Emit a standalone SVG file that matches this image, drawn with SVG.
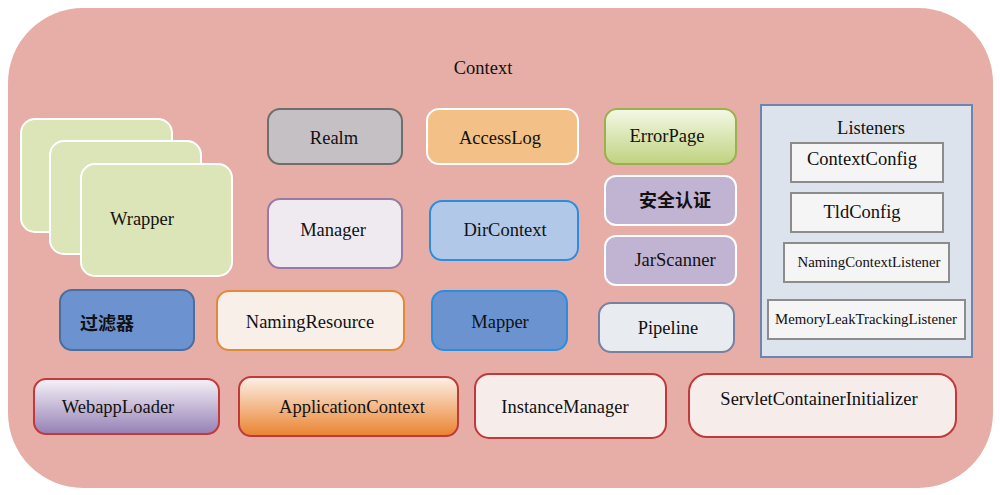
<svg xmlns="http://www.w3.org/2000/svg" width="1000" height="495" viewBox="0 0 1000 495">
<defs>
<linearGradient id="gErr" x1="0" y1="0" x2="0" y2="1"><stop offset="0" stop-color="#f4f8e6"/><stop offset="1" stop-color="#bfd380"/></linearGradient>
<linearGradient id="gWeb" x1="0" y1="0" x2="0" y2="1"><stop offset="0" stop-color="#f6f2f8"/><stop offset="1" stop-color="#9580b5"/></linearGradient>
<linearGradient id="gApp" x1="0" y1="0" x2="0" y2="1"><stop offset="0" stop-color="#fcf0e6"/><stop offset="1" stop-color="#ea8330"/></linearGradient>
</defs>
<style>
text{font-family:'Liberation Serif','Times New Roman','DejaVu Serif',serif;fill:#111;text-anchor:middle}
.t{font-size:18.5px}
.s{font-size:14.8px}
.cn{font-family:'Noto Sans CJK SC',sans-serif;font-size:18px;font-weight:bold}
.lis{fill:#f5f5f5;stroke:#8c8c8c;stroke-width:2}
.red{stroke:#c0393b;stroke-width:2}
</style>
<rect x="0" y="0" width="1000" height="495" fill="#ffffff"/>
<g id="context">
<rect x="8" y="8" width="985" height="480" rx="75" ry="75" fill="#e6aea6"/>
<text x="483" y="74" class="t">Context</text>
</g>
<g id="wrapper">
<rect x="21" y="119" width="151" height="113" rx="14" fill="#dce5b7" stroke="#ffffff" stroke-width="2"/>
<rect x="50" y="141" width="151" height="113" rx="14" fill="#dce5b7" stroke="#ffffff" stroke-width="2"/>
<rect x="81" y="164" width="151" height="112" rx="14" fill="#dce5b7" stroke="#ffffff" stroke-width="2"/>
<text x="142" y="225" class="t">Wrapper</text>
</g>
<g id="realm"><rect x="268" y="109" width="134" height="55" rx="12" fill="#c5c0c4" stroke="#6e6e6e" stroke-width="2"/><text x="334" y="144" class="t">Realm</text></g>
<g id="accesslog"><rect x="427" y="109" width="151" height="55" rx="12" fill="#f3c187" stroke="#ffffff" stroke-width="2"/><text x="500" y="144" class="t">AccessLog</text></g>
<g id="errorpage"><rect x="605" y="109" width="131" height="55" rx="12" fill="url(#gErr)" stroke="#9bb050" stroke-width="2"/><text x="667" y="142" class="t">ErrorPage</text></g>
<g id="manager"><rect x="268" y="199" width="134" height="69" rx="12" fill="#eeeaf0" stroke="#9a7aa0" stroke-width="2"/><text x="333" y="236" class="t">Manager</text></g>
<g id="dircontext"><rect x="430" y="201" width="148" height="59" rx="12" fill="#b1c8e8" stroke="#2a8ee0" stroke-width="2"/><text x="505" y="236" class="t">DirContext</text></g>
<g id="security"><rect x="605" y="176" width="131" height="49" rx="11" fill="#c1b3d2" stroke="#ffffff" stroke-width="2"/><text x="675" y="207" class="cn">安全认证</text></g>
<g id="jarscanner"><rect x="605" y="236" width="131" height="49" rx="11" fill="#c1b3d2" stroke="#ffffff" stroke-width="2"/><text x="675" y="266" class="t">JarScanner</text></g>
<g id="listeners">
<rect x="761" y="105" width="211" height="252" fill="#dce3ed" stroke="#6d85b0" stroke-width="2"/>
<text x="871" y="134" class="t">Listeners</text>
</g>
<g id="contextconfig"><rect x="791" y="143" width="152" height="39" class="lis"/><text x="862" y="165" class="t">ContextConfig</text></g>
<g id="tldconfig"><rect x="791" y="193" width="152" height="39" class="lis"/><text x="862" y="218" class="t">TldConfig</text></g>
<g id="namingcontextlistener"><rect x="784" y="243" width="165" height="39" class="lis"/><text x="869" y="267" class="s">NamingContextListener</text></g>
<g id="memoryleak"><rect x="768" y="300" width="197" height="39" class="lis"/><text x="866" y="324" class="s">MemoryLeakTrackingListener</text></g>
<g id="filter"><rect x="60" y="290" width="134" height="60" rx="12" fill="#6c93cf" stroke="#4a6ea0" stroke-width="2"/><text x="107" y="330" class="cn">过滤器</text></g>
<g id="namingresource"><rect x="217" y="291" width="187" height="59" rx="12" fill="#f8efe8" stroke="#e08a3a" stroke-width="2"/><text x="310" y="328" class="t">NamingResource</text></g>
<g id="mapper"><rect x="432" y="291" width="135" height="59" rx="12" fill="#6a93d0" stroke="#2a8ee0" stroke-width="2"/><text x="500" y="328" class="t">Mapper</text></g>
<g id="pipeline"><rect x="599" y="303" width="135" height="49" rx="12" fill="#e8ebf0" stroke="#7a80a0" stroke-width="2"/><text x="668" y="334" class="t">Pipeline</text></g>
<g id="webapploader"><rect x="34" y="379" width="185" height="55" rx="12" fill="url(#gWeb)" class="red"/><text x="118" y="413" class="t">WebappLoader</text></g>
<g id="applicationcontext"><rect x="239" y="377" width="219" height="59" rx="12" fill="url(#gApp)" class="red"/><text x="352" y="413" class="t">ApplicationContext</text></g>
<g id="instancemanager"><rect x="475" y="374" width="191" height="64" rx="14" fill="#f6ecea" class="red"/><text x="565" y="413" class="t">InstanceManager</text></g>
<g id="sci"><rect x="689" y="374" width="267" height="63" rx="18" fill="#f6ecea" class="red"/><text x="819" y="405" class="t">ServletContainerInitializer</text></g>
<g id="connectors"/>
</svg>
